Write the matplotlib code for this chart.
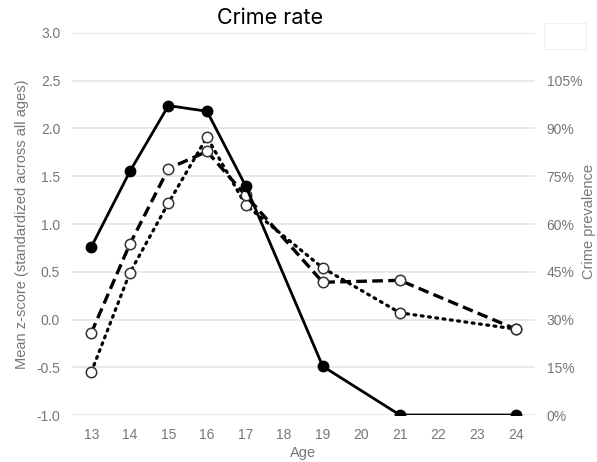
import numpy as np
import matplotlib
matplotlib.use("Agg")
import matplotlib.pyplot as plt
from matplotlib.patches import Rectangle

# data
ages = [13, 14, 15, 16, 17, 19, 21, 24]
solid_vals = [0.76, 1.55, 2.24, 2.18, 1.40, -0.49, -1.00, -1.00]
dashed_vals = [-0.14, 0.79, 1.58, 1.76, 1.30, 0.39, 0.41, -0.10]
dotted_vals = [-0.55, 0.49, 1.22, 1.91, 1.20, 0.54, 0.07, -0.10]

x_ticks = list(range(13, 25))
left_ticks = [-1.0, -0.5, 0.0, 0.5, 1.0, 1.5, 2.0, 2.5, 3.0]
right_ticks = [0, 15, 30, 45, 60, 75, 90, 105]

GREY = "#767676"
plt.rcParams["font.family"] = ["Liberation Sans", "DejaVu Sans"]

fig = plt.figure(figsize=(5.97, 4.62), dpi=100)
ax = fig.add_axes([0.1206, 0.1017, 0.896 - 0.1206, 0.9286 - 0.1017])

ax.set_xlim(12.5, 24.5)
ax.set_ylim(-1.0, 3.0)
ax.set_yticks(left_ticks)
ax.set_yticklabels([f"{v:.1f}" for v in left_ticks])
ax.set_xticks(x_ticks)
ax.grid(True, axis="y", color="#e3e3e3", lw=1.1)
ax.set_axisbelow(True)
for s in ax.spines.values():
    s.set_visible(False)
ax.tick_params(length=0, colors=GREY, labelsize=10, pad=8.5)
ax.tick_params(axis="x", pad=9)

# series (dotted first, solid on top)
ax.plot(ages, dotted_vals, color="black", lw=2.3, ls=(0, (0.6, 1.7)),
        dash_capstyle="round", marker="o", ms=7.5, mfc="white",
        mec="#333333", mew=1.1, zorder=3)
ax.plot(ages, dashed_vals, color="black", lw=2.4, ls=(0, (3.2, 1.6)),
        marker="o", ms=7.5, mfc="white", mec="#333333", mew=1.1, zorder=4)
ax.plot(ages, solid_vals, color="black", lw=2.0, marker="o", ms=7.5,
        mfc="black", mec="black", zorder=5)

ax.set_xlabel("Age", color=GREY, fontsize=10.5, labelpad=3)
ax.set_ylabel("Mean z-score (standardized across all ages)", color=GREY,
              fontsize=10.5, labelpad=5)

# right axis: prevalence in percent
ax2 = ax.twinx()
ax2.set_ylim(0, 120)
ax2.set_yticks(right_ticks)
ax2.set_yticklabels([f"{v}%" for v in right_ticks])
for s in ax2.spines.values():
    s.set_visible(False)
ax2.tick_params(length=0, colors=GREY, labelsize=10, pad=8.5)
fig.text(0.986, 0.52, "Crime prevalence", rotation=90, ha="center",
         va="center", color=GREY, fontsize=10.5)

fig.text(0.452, 0.962, "Crime rate", ha="center", va="center",
         fontsize=15.5, family=["Inter", "DejaVu Sans"], color="black")

# empty legend box top right
fig.patches.append(Rectangle((544 / 597, 1 - 49 / 462), 42 / 597, 26 / 462,
                             transform=fig.transFigure, facecolor="white",
                             edgecolor="#f0f0f0", lw=0.8))

fig.savefig("out.png", dpi=100)
